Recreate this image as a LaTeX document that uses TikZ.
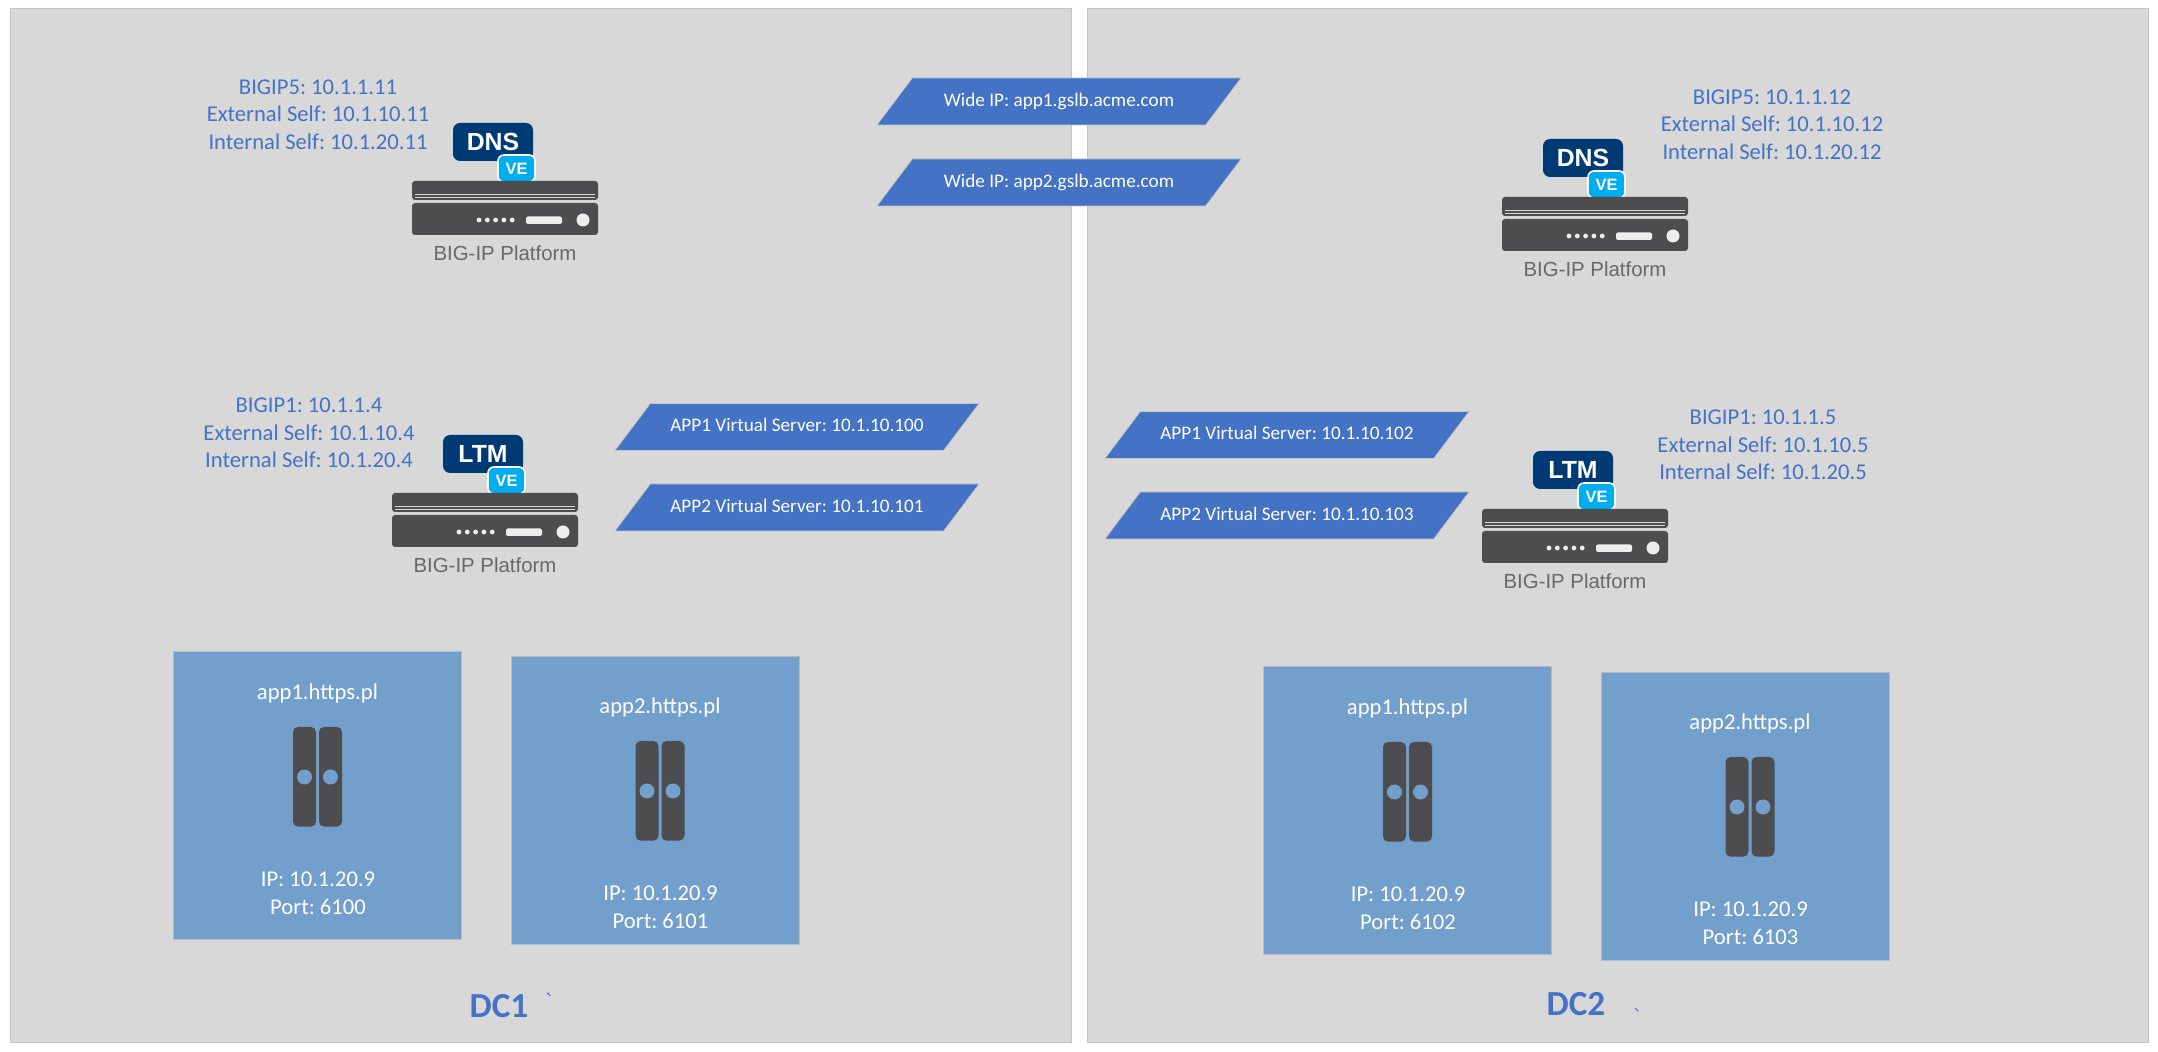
\documentclass[tikz,border=0pt]{standalone}
\usepackage{fontspec}
\usepackage{xcolor}
\usetikzlibrary{shapes.geometric, calc}
\setmainfont{Carlito}
\newfontfamily\platformfont{Liberation Sans}
\newfontfamily\cjkfont{Noto Sans CJK SC}
\definecolor{panelgray}{HTML}{D8D8D8}
\definecolor{panelline}{HTML}{C4C4C4}
\definecolor{ipblue}{HTML}{4472C4}
\definecolor{poolblue}{HTML}{739FCD}
\definecolor{iron}{HTML}{4D4D4F}
\definecolor{navy}{HTML}{003A75}
\definecolor{vecyan}{HTML}{00AEEF}
\tikzset{
  box/.style={rectangle, anchor=north west, inner sep=0pt, outer sep=0pt},
  dcpanel/.style={box, fill=panelgray, draw=panelline, line width=0.5pt, minimum width=530.5pt, minimum height=516.5pt},
  pool/.style={box, fill=poolblue, draw=panelline!80!poolblue, line width=0.4pt, minimum width=144pt, minimum height=144pt},
  vip/.style={trapezium, trapezium left angle=53, trapezium right angle=127, trapezium stretches body,
    fill=ipblue, draw=panelline, line width=0.3pt, minimum width=182pt, text height=7pt, text depth=2pt,
    inner xsep=0pt, inner ysep=7.25pt, outer sep=0pt, text=white, font=\fontsize{9.6}{10}\selectfont},
  selfip/.style={align=center, text=ipblue, font=\fontsize{11.3}{13.8}\selectfont},
  pooltext/.style={align=center, text=white, font=\fontsize{11.3}{14}\selectfont},
  dclabel/.style={text=ipblue, font=\fontsize{17.6}{20}\selectfont\bfseries},
  chassis/.style={box, fill=iron, rounded corners=1.5pt, minimum width=93pt},
  rail/.style={box, fill=iron, rounded corners=2.5pt, minimum width=11.5pt, minimum height=49.8pt},
}
% one BIG-IP appliance: prefix, x, y of the chassis, module, shift of the module badge
\newcommand{\bigip}[5]{
\begin{scope}[shift={(#2,#3)}]
\node[box, fill=navy, rounded corners=3.5pt, minimum width=40pt, minimum height=19pt, text=white,
  font=\platformfont\bfseries\fontsize{12.4}{13}\selectfont] (#1mod) at (41+#5,-58) {#4};
\node[box, fill=vecyan, draw=white, line width=0.8pt, rounded corners=3pt, minimum width=18.5pt, minimum height=13.5pt,
  text=white, font=\platformfont\bfseries\fontsize{8.2}{9}\selectfont] (#1ve) at (86+#5,-26) {VE};
\node[chassis, minimum height=9.5pt] (#1top) at (0,0) {};
\node[chassis, minimum height=16pt] (#1low) at (0,22) {};
\fill[panelgray] (3,13) rectangle (183,14.5);
\fill[panelgray] (3,16) rectangle (183,17.5);
\foreach \dot in {0,...,4} {
  \fill[white!90!iron] (67+\dot*8.3,39) circle (2.4);
}
\fill[white!90!iron, rounded corners=1pt] (114,35.5) rectangle (150,43);
\fill[white!90!iron] (171,39) circle (6.5);
\node[text=iron!85!white, font=\platformfont\fontsize{10.2}{12}\selectfont] (#1plat) at (93,72) {BIG-IP Platform};
\end{scope}
}
% one pool member: prefix, x, y, name, port, shift of the contents
\newcommand{\appbox}[7]{
\node[pool] (#1) at (#2,#3) {};
\begin{scope}[shift={(#2+#6,#3+#7)}]
\node[pooltext] (#1name) at (144.5,42) {#4};
\node[rail, anchor=north east] (#1l) at (143,76) {};
\node[rail] (#1r) at (146,76) {};
\fill[poolblue] (131.5,126) circle (7.5);
\fill[poolblue] (157.5,126) circle (7.5);
\node[pooltext] (#1ip) at (145,242) {IP: 10.1.20.9\\Port: #5};
\end{scope}
}
\begin{document}
\frenchspacing
\begin{tikzpicture}[x=0.5pt, y=-0.5pt]
\useasboundingbox (0,0) rectangle (2158,1052);

% data centres
\node[dcpanel] (dca) at (10,9) {};
\node[dcpanel] (dcb) at (1087,9) {};

% wide ips
\node[vip] (wipa) at (1059,101.5) {Wide IP: app1.gslb.acme.com};
\node[vip] (wipb) at (1059,182.5) {Wide IP: app2.gslb.acme.com};

% dc1
\node[selfip] (dnsa) at (318,114.5) {BIGIP5: 10.1.1.11\\External Self: 10.1.10.11\\Internal Self: 10.1.20.11};
\bigip{dnsa}{412}{181}{DNS}{0}
\node[selfip] (ltma) at (309,433) {BIGIP1: 10.1.1.4\\External Self: 10.1.10.4\\Internal Self: 10.1.20.4};
\bigip{ltma}{392}{493}{LTM}{10}
\node[vip] (vsa) at (797,427) {APP1 Virtual Server: 10.1.10.100};
\node[vip] (vsb) at (797,507.5) {APP2 Virtual Server: 10.1.10.101};
\appbox{appa}{173}{651}{app1.https.pl}{6100}{0}{0}
\appbox{appb}{511}{656}{app2.https.pl}{6101}{4.5}{9}
\node[dclabel] (dcaname) at (499,1006) {DC1};
\node[text=ipblue, font=\platformfont\fontsize{11}{11}\selectfont] (dcatick) at (549,1001) {\char96};

% dc2
\node[selfip] (dnsb) at (1772,124.5) {BIGIP5: 10.1.1.12\\External Self: 10.1.10.12\\Internal Self: 10.1.20.12};
\bigip{dnsb}{1502}{197}{DNS}{0}
\node[selfip] (ltmb) at (1763,445) {BIGIP1: 10.1.1.5\\External Self: 10.1.10.5\\Internal Self: 10.1.20.5};
\bigip{ltmb}{1482}{509}{LTM}{10}
\node[vip] (vsc) at (1287,435) {APP1 Virtual Server: 10.1.10.102};
\node[vip] (vsd) at (1287,515.5) {APP2 Virtual Server: 10.1.10.103};
\appbox{appc}{1263}{666}{app1.https.pl}{6102}{0}{0}
\appbox{appd}{1601}{672}{app2.https.pl}{6103}{4.5}{9}
\node[dclabel] (dcbname) at (1576,1004) {DC2};
\node[text=ipblue, font=\cjkfont\fontsize{7}{7}\selectfont] (dcbtick) at (1641,1010) {、};
\end{tikzpicture}
\end{document}
